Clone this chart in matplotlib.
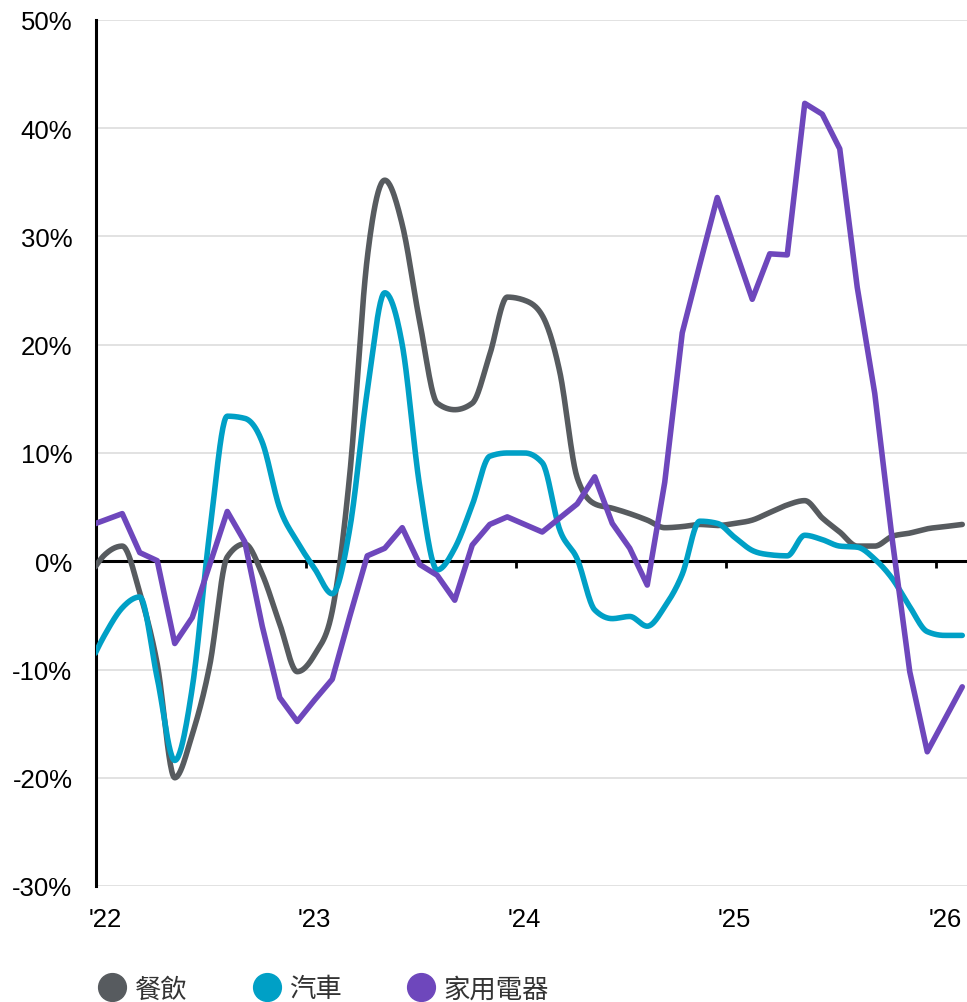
import numpy as np
import matplotlib
matplotlib.use('Agg')
import matplotlib.pyplot as plt
from matplotlib.lines import Line2D

# ---------------- data (month index: 0 = Jan 2022, plotted mid-month) -------------
months = np.arange(-1, 50)
dining = [-1.6, 0.6, 1.4, -2.9, -9.5, -20.0, -16.0, -9.6, 0.4, 1.6, -1.2, -5.8, -10.2,
          -8.6, -4.6, 8.0, 28.0, 35.2, 31.1, 22.1, 14.6, 14.0, 14.6, 19.1, 24.4, 24.1,
          22.7, 17.5, 7.7, 5.3, 4.9, 4.4, 3.8, 3.1, 3.2, 3.4, 3.3, 3.5, 3.8, 4.5, 5.2,
          5.6, 4.0, 2.7, 1.4, 1.4, 2.3, 2.6, 3.0, 3.2, 3.4]
autos = [-10.0, -6.8, -4.3, -3.3, -10.8, -18.4, -11.7, 2.7, 13.4, 13.2, 11.0, 4.9, 1.8,
         -0.7, -3.0, 3.0, 15.7, 24.8, 20.0, 6.9, -0.8, 1.2, 5.2, 9.7, 10.0, 10.0, 9.1,
         2.9, 0.2, -4.5, -5.3, -5.1, -6.0, -4.2, -1.2, 3.7, 3.5, 2.2, 1.0, 0.6, 0.5,
         2.4, 2.0, 1.4, 1.3, 0.2, -1.6, -4.2, -6.5, -6.85, -6.85]
appliances = [3.2, 3.8, 4.4, 0.8, 0.05, -7.6, -5.2, -0.3, 4.6, 1.8, -6.0, -12.6, -14.8,
              -12.8, -10.9, -5.1, 0.5, 1.2, 3.1, -0.3, -1.3, -3.6, 1.5, 3.4, 4.1, 3.4,
              2.7, 4.0, 5.3, 7.8, 3.5, 1.2, -2.2, 7.3, 21.1, 27.4, 33.6, 28.9, 24.2, 28.4,
              28.3, 42.3, 41.3, 38.1, 25.3, 15.5, 2.0, -10.2, -17.6, -14.6, -11.6]
series_names = ['餐飲', '汽車', '家用電器']
colors = ['#575b5f', '#00a0c6', '#6e47bc']
smooth = [True, True, False]
year_labels = ["'22", "'23", "'24", "'25", "'26"]
y_ticks = [-30, -20, -10, 0, 10, 20, 30, 40, 50]


def monotone_curve(x, y, n=24):
    x = np.asarray(x, float)
    y = np.asarray(y, float)
    h = np.diff(x)
    s = np.diff(y) / h
    m = np.zeros_like(y)
    m[0], m[-1] = s[0], s[-1]
    for i in range(1, len(y) - 1):
        s0, s1 = s[i - 1], s[i]
        if s0 * s1 <= 0:
            m[i] = 0.0
        else:
            p = (s0 * h[i] + s1 * h[i - 1]) / (h[i - 1] + h[i])
            m[i] = (np.sign(s0) + np.sign(s1)) * min(abs(s0), abs(s1), 0.5 * abs(p))
    xs, ys = [], []
    for i in range(len(y) - 1):
        t = np.linspace(0, 1, n, endpoint=False)
        h00 = 2 * t**3 - 3 * t**2 + 1
        h10 = t**3 - 2 * t**2 + t
        h01 = -2 * t**3 + 3 * t**2
        h11 = t**3 - t**2
        xs.append(x[i] + t * h[i])
        ys.append(h00 * y[i] + h10 * h[i] * m[i] + h01 * y[i + 1] + h11 * h[i] * m[i + 1])
    xs.append([x[-1]])
    ys.append([y[-1]])
    return np.concatenate(xs), np.concatenate(ys)


plt.rcParams['font.family'] = ['Liberation Sans', 'Noto Sans CJK TC', 'DejaVu Sans']

fig = plt.figure(figsize=(9.67, 10.03), dpi=100)
ax = fig.add_axes([96 / 967, 1 - 887 / 1003, 871 / 967, 866 / 1003])

xpos = months + 0.5
for vals, col, sm in zip([dining, autos, appliances], colors, smooth):
    if sm:
        cx, cy = monotone_curve(xpos, vals)
    else:
        cx, cy = xpos, np.asarray(vals)
    ax.plot(cx, cy, color=col, lw=4.0, solid_capstyle='round', solid_joinstyle='round',
            zorder=3)

ax.set_xlim(0, 871 / 17.5)
ax.set_ylim(-30, 50)
ax.set_yticks(y_ticks)
ax.set_yticklabels([f'{v}%' for v in y_ticks])
ax.grid(axis='y', color='#dddddd', lw=1.2)
ax.set_axisbelow(True)
ax.tick_params(axis='y', length=0, pad=17, labelsize=18.5, labelcolor='black')

for sp in ['top', 'right']:
    ax.spines[sp].set_visible(False)
ax.spines['left'].set_linewidth(2.2)
ax.spines['left'].set_color('black')
ax.spines['bottom'].set_position(('data', 0))
ax.spines['bottom'].set_linewidth(2.2)
ax.spines['bottom'].set_color('black')
ax.spines['bottom'].set_zorder(2)

year_starts = [12 * i for i in range(len(year_labels))]
ax.set_xticks(year_starts)
ax.set_xticklabels([])
ax.tick_params(axis='x', direction='out', length=5, width=2, color='black')

sec = ax.secondary_xaxis(0.0)
sec.set_xticks([s + 0.5 for s in year_starts])
sec.set_xticklabels(year_labels)
sec.tick_params(axis='x', length=0, pad=15, labelsize=18.5, labelcolor='black')
sec.spines['bottom'].set_visible(False)

handles = [Line2D([], [], ls='none', marker='o', ms=20, color=c, mec=c) for c in colors]
fig.legend(handles, series_names, loc='center left', bbox_to_anchor=(99 / 967, 1 - 990 / 1003),
           ncol=3, frameon=False, handlelength=1.0, handletextpad=0.35, columnspacing=2.5,
           borderpad=0, borderaxespad=0,
           prop={'family': ['Noto Sans CJK TC', 'DejaVu Sans'], 'size': 19})
for t in fig.legends[0].get_texts():
    t.set_color('#333333')

fig.savefig('out.png', dpi=100)
